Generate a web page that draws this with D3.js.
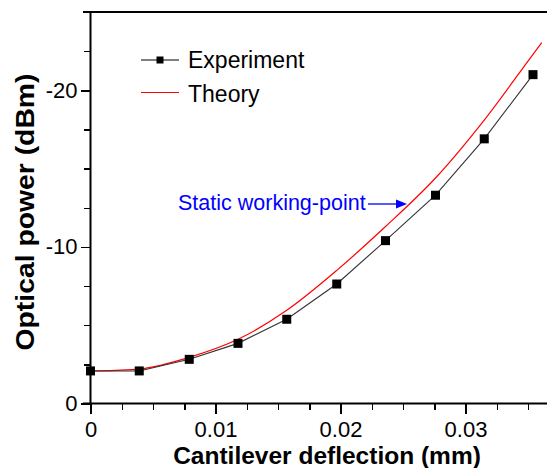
<!DOCTYPE html>
<meta charset="utf-8">
<style>
body { margin: 0; background: #fff; }
svg { display: block; font-family: "Liberation Sans", Arial, sans-serif; }
.axis path, .axis line { stroke: #000; shape-rendering: crispEdges; }
.axis text { font-size: 22px; fill: #000; }
</style>
<svg width="547" height="468" id="chart"></svg>
<script src="https://d3js.org/d3.v7.min.js"></script>
<script>
// experiment points (deflection in mm, power in dBm)
var deflection = [0, 0.0039, 0.0079, 0.0118, 0.0157, 0.0197, 0.0236, 0.0276, 0.0315, 0.0354];
var experiment = [-2.08, -2.08, -2.82, -3.84, -5.38, -7.63, -10.4, -13.3, -16.9, -21.0];
// theory curve
var theoryX = [0, 0.002, 0.0039, 0.0079, 0.0118, 0.0157, 0.0197, 0.0236, 0.0276, 0.0315, 0.0354, 0.0361];
var theory = [-2.08, -2.12, -2.2, -2.95, -4.1, -5.95, -8.5, -11.3, -14.4, -18.1, -22.3, -23.05];
var xTicks = [0, 0.01, 0.02, 0.03];
var yTicks = [0, -10, -20];

var svg = d3.select("#chart");

var x = d3.scaleLinear().domain([0, 0.04]).range([90.5, 590.5]);
var y = d3.scaleLinear().domain([0, -25]).range([403.5, 12]);

// minor ticks
svg.append("g")
    .attr("class", "axis")
    .attr("transform", "translate(0,403.5)")
    .attr("stroke-width", 1.5)
    .call(d3.axisBottom(x).tickValues(d3.range(0, 0.04, 0.0025)).tickSize(6).tickFormat(""))
    .call(g => g.select(".domain").remove());
svg.append("g")
    .attr("class", "axis")
    .attr("transform", "translate(90.5,0)")
    .attr("stroke-width", 1.5)
    .call(d3.axisLeft(y).tickValues(d3.range(0, -25.1, -2.5)).tickSize(7).tickFormat(""))
    .call(g => g.select(".domain").remove());

// major ticks + labels
svg.append("g")
    .attr("class", "axis")
    .attr("transform", "translate(0,403.5)")
    .call(d3.axisBottom(x).tickValues(xTicks).tickSize(10).tickPadding(8).tickSizeOuter(0)
      .tickFormat(d => d === 0 ? "0" : d3.format(".2f")(d)))
    .call(g => g.select(".domain").remove())
    .call(g => g.selectAll("line").attr("stroke-width", 1.5))
    .call(g => g.selectAll("text").attr("font-family", "Liberation Sans"));
svg.append("g")
    .attr("class", "axis")
    .attr("transform", "translate(90.5,0)")
    .call(d3.axisLeft(y).tickValues(yTicks).tickSize(10).tickPadding(3).tickSizeOuter(0)
      .tickFormat(d => String(d)))
    .call(g => g.select(".domain").remove())
    .call(g => g.selectAll("line").attr("stroke-width", 1.5))
    .call(g => g.selectAll("text").attr("font-family", "Liberation Sans"));

// frame lines
svg.append("line")
    .attr("x1", 83).attr("x2", 547)
    .attr("y1", y(0)).attr("y2", y(0))
    .attr("stroke", "#000").attr("stroke-width", 2);
svg.append("line")
    .attr("x1", 83).attr("x2", 547)
    .attr("y1", y(-25)).attr("y2", y(-25))
    .attr("stroke", "#000").attr("stroke-width", 2);
svg.append("line")
    .attr("x1", x(0)).attr("x2", x(0))
    .attr("y1", y(-25)).attr("y2", y(0))
    .attr("stroke", "#000").attr("stroke-width", 2);

// theory
var theoryPts = theoryX.map((d, i) => [d, theory[i]]);
svg.append("path")
    .datum(theoryPts)
    .attr("fill", "none")
    .attr("stroke", "#f00")
    .attr("stroke-width", 1.2)
    .attr("d", d3.line().x(d => x(d[0])).y(d => y(d[1])).curve(d3.curveMonotoneX));

// experiment
var expPts = deflection.map((d, i) => [d, experiment[i]]);
svg.append("path")
    .datum(expPts)
    .attr("fill", "none")
    .attr("stroke", "#333")
    .attr("stroke-width", 1.1)
    .attr("d", d3.line().x(d => x(d[0])).y(d => y(d[1])));
svg.append("g").selectAll("rect")
    .data(expPts)
    .enter().append("rect")
      .attr("x", d => x(d[0]) - 4.5)
      .attr("y", d => y(d[1]) - 4.5)
      .attr("width", 9)
      .attr("height", 9)
      .attr("fill", "#000");

// legend
var lg = svg.append("g").attr("font-size", "23px");
lg.append("line").attr("x1", 141).attr("x2", 179).attr("y1", 60).attr("y2", 60)
    .attr("stroke", "#000").attr("stroke-width", 1.2);
lg.append("rect").attr("x", 156.5).attr("y", 56.5).attr("width", 7).attr("height", 7).attr("fill", "#000");
lg.append("text").attr("x", 188).attr("y", 68).text("Experiment");
lg.append("line").attr("x1", 141).attr("x2", 179).attr("y1", 92.5).attr("y2", 92.5)
    .attr("stroke", "#f00").attr("stroke-width", 1.2);
lg.append("text").attr("x", 188).attr("y", 102).text("Theory");

// annotation
svg.append("text")
    .attr("x", 178).attr("y", 210)
    .attr("font-size", "21.5px")
    .attr("fill", "#00f")
    .text("Static working-point");
svg.append("line")
    .attr("x1", 368).attr("x2", 398).attr("y1", 204).attr("y2", 204)
    .attr("stroke", "#00f").attr("stroke-width", 1.3);
svg.append("path")
    .attr("d", "M396,199.5L407,204L396,208.5Z")
    .attr("fill", "#00f");

// axis titles
svg.append("text")
    .attr("x", 327).attr("y", 464)
    .attr("text-anchor", "middle")
    .attr("font-weight", "bold")
    .attr("font-size", "24.5px")
    .text("Cantilever deflection (mm)");
svg.append("text")
    .attr("transform", "translate(34,212) rotate(-90)")
    .attr("text-anchor", "middle")
    .attr("font-weight", "bold")
    .attr("font-size", "25px")
    .attr("textLength", 277)
    .attr("lengthAdjust", "spacingAndGlyphs")
    .text("Optical power (dBm)");
</script>
